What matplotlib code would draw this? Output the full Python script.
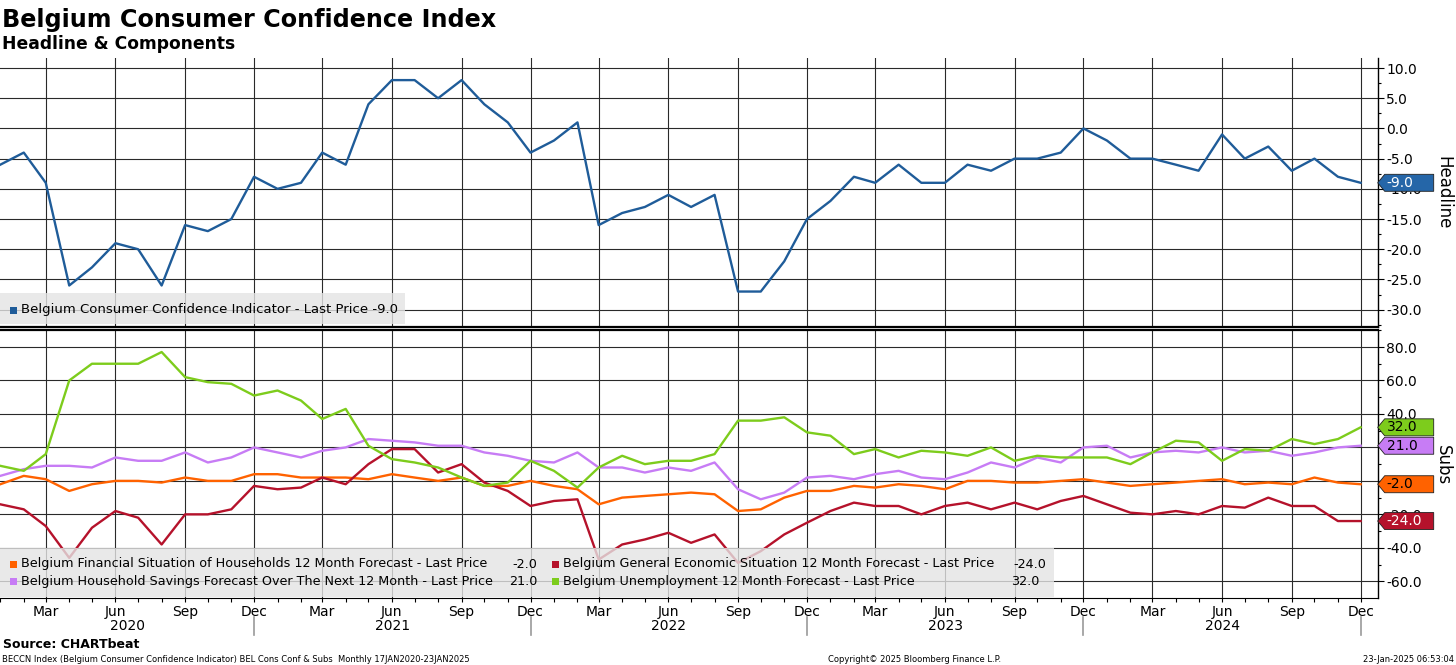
import numpy as np
import pandas as pd
import matplotlib
matplotlib.use("Agg")
from matplotlib import pyplot as plt
import matplotlib.dates as mdates
from matplotlib.patches import Rectangle
from matplotlib.path import Path
from matplotlib.ticker import MultipleLocator, FuncFormatter

# monthly data, Jan 2020 - Dec 2024
months = pd.date_range("2020-01-01", periods=60, freq="MS")

headline = [-6, -4, -9, -26, -23, -19, -20, -26, -16, -17, -15, -8,
            -10, -9, -4, -6, 4, 8, 8, 5, 8, 4, 1, -4,
            -2, 1, -16, -14, -13, -11, -13, -11, -27, -27, -22, -15,
            -12, -8, -9, -6, -9, -9, -6, -7, -5, -5, -4, 0,
            -2, -5, -5, -6, -7, -1, -5, -3, -7, -5, -8, -9]

financial = [-2, 3, 1, -6, -2, 0, 0, -1, 2, 0, 0, 4,
             4, 2, 2, 2, 1, 4, 2, 0, 2, -3, -3, 0,
             -3, -5, -14, -10, -9, -8, -7, -8, -18, -17, -10, -6,
             -6, -3, -4, -2, -3, -5, 0, 0, -1, -1, 0, 1,
             -1, -3, -2, -1, 0, 1, -2, -1, -2, 2, -1, -2]

general = [-14, -17, -27, -46, -28, -18, -22, -38, -20, -20, -17, -3,
           -5, -4, 2, -2, 10, 19, 19, 5, 10, -1, -6, -15,
           -12, -11, -47, -38, -35, -31, -37, -32, -49, -42, -32, -25,
           -18, -13, -15, -15, -20, -15, -13, -17, -13, -17, -12, -9,
           -14, -19, -20, -18, -20, -15, -16, -10, -15, -15, -24, -24]

savings = [3, 7, 9, 9, 8, 14, 12, 12, 17, 11, 14, 20,
           17, 14, 18, 20, 25, 24, 23, 21, 21, 17, 15, 12,
           11, 17, 8, 8, 5, 8, 6, 11, -5, -11, -7, 2,
           3, 1, 4, 6, 2, 1, 5, 11, 8, 14, 11, 20,
           21, 14, 17, 18, 17, 20, 17, 18, 15, 17, 20, 21]

unemployment = [9, 6, 16, 60, 70, 70, 70, 77, 62, 59, 58, 51,
                54, 48, 37, 43, 21, 13, 11, 8, 2, -3, -1, 12,
                6, -4, 8, 15, 10, 12, 12, 16, 36, 36, 38, 29,
                27, 16, 19, 14, 18, 17, 15, 20, 12, 15, 14, 14,
                14, 10, 17, 24, 23, 12, 19, 18, 25, 22, 25, 32]

years = [2020, 2021, 2022, 2023, 2024]

c_head = "#1f5c99"
c_fin = "#ff6200"
c_gen = "#b5122b"
c_sav = "#c77cf5"
c_unemp = "#7dcc1c"

W, H = 1456, 665
plt.rcParams["font.family"] = ["DejaVu Sans"]

fig = plt.figure(figsize=(W / 100, H / 100), dpi=100)


def fx(x):
    return x / W


def fy(y):
    return 1 - y / H


ax1 = fig.add_axes([0, fy(327), 1377.7 / W, (327 - 58) / H])
ax2 = fig.add_axes([0, fy(597.7), 1377.7 / W, (597.7 - 330) / H])

x0 = mdates.date2num(pd.Timestamp("2020-01-01")) - 0.4
x1 = x0 + 1818.9

ax1.plot(months, headline, color=c_head, lw=1.7, zorder=3)
ax2.plot(months, financial, color=c_fin, lw=1.7, zorder=3)
ax2.plot(months, general, color=c_gen, lw=1.7, zorder=3)
ax2.plot(months, savings, color=c_sav, lw=1.7, zorder=3)
ax2.plot(months, unemployment, color=c_unemp, lw=1.7, zorder=3)

ax1.set_ylim(-32.87, 11.66)
ax2.set_ylim(-69.8, 90.16)

for ax in (ax1, ax2):
    ax.set_xlim(x0, x1)
    ax.xaxis.set_major_locator(mdates.MonthLocator(bymonth=[3, 6, 9, 12]))
    ax.xaxis.set_minor_locator(mdates.MonthLocator())
    ax.grid(True, which="major", color="#2a2a2a", lw=0.8, zorder=1)
    ax.yaxis.tick_right()
    ax.yaxis.set_major_formatter(FuncFormatter(lambda v, p: f"{v:.1f}"))
    ax.tick_params(axis="y", which="major", direction="out", length=4,
                   width=0.8, pad=2, labelsize=10)
    ax.tick_params(axis="y", which="minor", direction="out", length=2.5,
                   width=0.8)
    ax.spines["left"].set_visible(False)
    ax.spines["right"].set_linewidth(1.0)

ax1.yaxis.set_major_locator(MultipleLocator(5))
ax1.yaxis.set_minor_locator(MultipleLocator(2.5))
ax2.yaxis.set_major_locator(MultipleLocator(20))
ax2.yaxis.set_minor_locator(MultipleLocator(10))

ax1.spines["top"].set_visible(False)
ax1.spines["bottom"].set_linewidth(1.6)
ax1.tick_params(axis="x", which="both", length=0, labelbottom=False)
ax2.spines["top"].set_linewidth(1.6)

ax2.xaxis.set_major_formatter(mdates.DateFormatter("%b"))
ax2.tick_params(axis="x", which="both", direction="out", length=3,
                width=0.8, pad=2, labelsize=10)

# year labels and separators under the axis
trans = ax2.get_xaxis_transform()
prev = x0
for yr in years:
    dec = mdates.date2num(pd.Timestamp(f"{yr}-12-01"))
    ax2.plot([dec, dec], [-0.072, -0.139], transform=trans, color="#9a9a9a",
             lw=1.2, clip_on=False)
    ax2.text((prev + dec) / 2, -0.105, str(yr), transform=trans,
             ha="center", va="center", fontsize=10)
    prev = dec


# last value tags
def tag_shape(x0, y0, width, height, mutation_size):
    yc = y0 + height / 2
    h = 8.5
    left = x0 - 9
    right = left + 56
    notch = 7
    verts = [(left, yc), (left + notch, yc + h), (right, yc + h),
             (right, yc - h), (left + notch, yc - h), (left, yc)]
    codes = [Path.MOVETO] + [Path.LINETO] * 4 + [Path.CLOSEPOLY]
    return Path(verts, codes)


def add_tag(ax, val, fc, tc):
    ax.annotate(f"{val:.1f}", xy=(1, val), xycoords=ax.get_yaxis_transform(),
                xytext=(9 * 0.72, 0), textcoords="offset points",
                ha="left", va="center", fontsize=10, color=tc,
                bbox=dict(boxstyle=tag_shape, fc=fc, ec="#202020", lw=0.6),
                annotation_clip=False, zorder=6)


add_tag(ax1, headline[-1], "#2566a8", "white")
add_tag(ax2, unemployment[-1], c_unemp, "black")
add_tag(ax2, savings[-1], c_sav, "black")
add_tag(ax2, financial[-1], c_fin, "black")
add_tag(ax2, general[-1], c_gen, "white")

fig.text(fx(1443), fy(193), "Headline", rotation=270, ha="center",
         va="center", fontsize=12)
fig.text(fx(1443), fy(465), "Subs", rotation=270, ha="center",
         va="center", fontsize=12)

# legends
lfs = 9.2
fig.patches.append(Rectangle((fx(0), fy(324)), fx(405), (324 - 293) / H,
                             transform=fig.transFigure, fc="#e4e4e4",
                             ec="none", alpha=0.8, zorder=4))
fig.patches.append(Rectangle((fx(10), fy(313.5)), fx(7), 7 / H,
                             transform=fig.transFigure, fc=c_head,
                             ec="none", zorder=5))
fig.text(fx(21), fy(310), "Belgium Consumer Confidence Indicator - Last Price -9.0",
         ha="left", va="center", fontsize=9.5, zorder=5)

fig.patches.append(Rectangle((fx(0), fy(597)), fx(1054), (597 - 548) / H,
                             transform=fig.transFigure, fc="#e4e4e4",
                             ec="none", alpha=0.8, zorder=4))
leg = [
    (10, 564, c_fin, "Belgium Financial Situation of Households 12 Month Forecast - Last Price", "-2.0", 537),
    (10, 581.5, c_sav, "Belgium Household Savings Forecast Over The Next 12 Month - Last Price", "21.0", 537),
    (552, 564, c_gen, "Belgium General Economic Situation 12 Month Forecast - Last Price", "-24.0", 1046),
    (552, 581.5, c_unemp, "Belgium Unemployment 12 Month Forecast - Last Price", "32.0", 1039),
]
for mx, my, col, lab, val, vx in leg:
    fig.patches.append(Rectangle((fx(mx), fy(my + 3.5)), fx(7), 7 / H,
                                 transform=fig.transFigure, fc=col,
                                 ec="none", zorder=5))
    fig.text(fx(mx + 11), fy(my), lab, ha="left", va="center",
             fontsize=lfs, zorder=5)
    fig.text(fx(vx), fy(my), val, ha="right", va="center",
             fontsize=lfs, zorder=5)

# titles and footer
fig.text(fx(2), fy(27), "Belgium Consumer Confidence Index", ha="left",
         va="baseline", fontsize=17.2, fontweight="bold")
fig.text(fx(2), fy(49), "Headline & Components", ha="left", va="baseline",
         fontsize=12.3, fontweight="bold")
fig.text(fx(3), fy(644), "Source: CHARTbeat", ha="left", va="center",
         fontsize=9, fontweight="bold")
fig.text(fx(2), fy(659), "BECCN Index (Belgium Consumer Confidence Indicator) BEL Cons Conf & Subs  Monthly 17JAN2020-23JAN2025",
         ha="left", va="center", fontsize=6.05)
fig.text(fx(828), fy(659), "Copyright\u00a9 2025 Bloomberg Finance L.P.",
         ha="left", va="center", fontsize=6.05)
fig.text(fx(1454), fy(659), "23-Jan-2025 06:53:04", ha="right",
         va="center", fontsize=6.05)

fig.savefig("out.png", dpi=100)
